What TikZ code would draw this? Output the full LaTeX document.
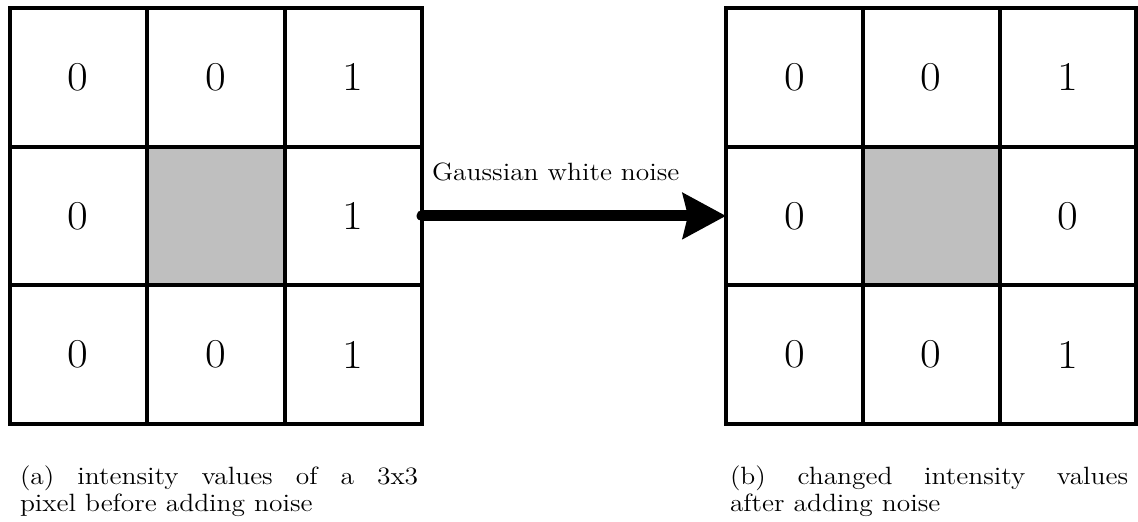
\documentclass[tikz,border=0pt]{standalone}
\usepackage{graphicx}
\usetikzlibrary{arrows.meta}
\newcommand\hdig[1]{\scalebox{1.1}[1]{#1}}
\begin{document}
\begin{tikzpicture}[x=0.5pt,y=-0.5pt,
  lcell/.style={draw, line width=2pt, minimum width=68.75pt, minimum height=69.3pt,
    inner sep=0pt, outer sep=0pt, font=\fontsize{20.5}{24}\selectfont},
  rcell/.style={lcell, minimum width=68.4pt},
  shade/.style={fill=black!25},
  capt/.style={anchor=base west, inner sep=0pt, outer sep=0pt},
  noisearrow/.style={line width=5.5pt, line cap=round,
    -{Stealth[length=21.5pt,width=22.5pt,inset=2.5pt]}}]
\useasboundingbox (0,0) rectangle (1138,521);
% left grid
\node[lcell] (L11) at (78.25,77.3)  {\hdig{0}};
\node[lcell] (L12) at (215.75,77.3) {\hdig{0}};
\node[lcell] (L13) at (353.25,77.3) {\hdig{1}};
\node[lcell] (L21) at (78.25,215.9)  {\hdig{0}};
\node[lcell,shade] (L22) at (215.75,215.9) {};
\node[lcell] (L23) at (353.25,215.9) {\hdig{1}};
\node[lcell] (L31) at (78.25,354.5)  {\hdig{0}};
\node[lcell] (L32) at (215.75,354.5) {\hdig{0}};
\node[lcell] (L33) at (353.25,354.5) {\hdig{1}};
% right grid
\node[rcell] (R11) at (794.4,77.3)  {\hdig{0}};
\node[rcell] (R12) at (931.2,77.3)  {\hdig{0}};
\node[rcell] (R13) at (1068.0,77.3) {\hdig{1}};
\node[rcell] (R21) at (794.4,215.9)  {\hdig{0}};
\node[rcell,shade] (R22) at (931.2,215.9) {};
\node[rcell] (R23) at (1068.0,215.9) {\hdig{0}};
\node[rcell] (R31) at (794.4,354.5)  {\hdig{0}};
\node[rcell] (R32) at (931.2,354.5)  {\hdig{0}};
\node[rcell] (R33) at (1068.0,354.5) {\hdig{1}};
% arrow and label
\draw[noisearrow] (L23.east) -- (R21.west);
\node[capt] (lab) at (432,180) {\fontsize{12.5}{13.5}\selectfont\scalebox{1.1}[1]{Gaussian white noise}};
% captions
\node[capt] (capa) at (20,484) {\scalebox{1.1}[1]{\parbox[t]{181pt}{\fontsize{12.5}{13.5}\selectfont (a) intensity values of a 3x3\linebreak pixel before adding noise}}};
\node[capt] (capb) at (730,484) {\scalebox{1.1}[1]{\parbox[t]{181pt}{\fontsize{12.5}{13.5}\selectfont (b) changed intensity values\linebreak after adding noise}}};
\end{tikzpicture}
\end{document}
